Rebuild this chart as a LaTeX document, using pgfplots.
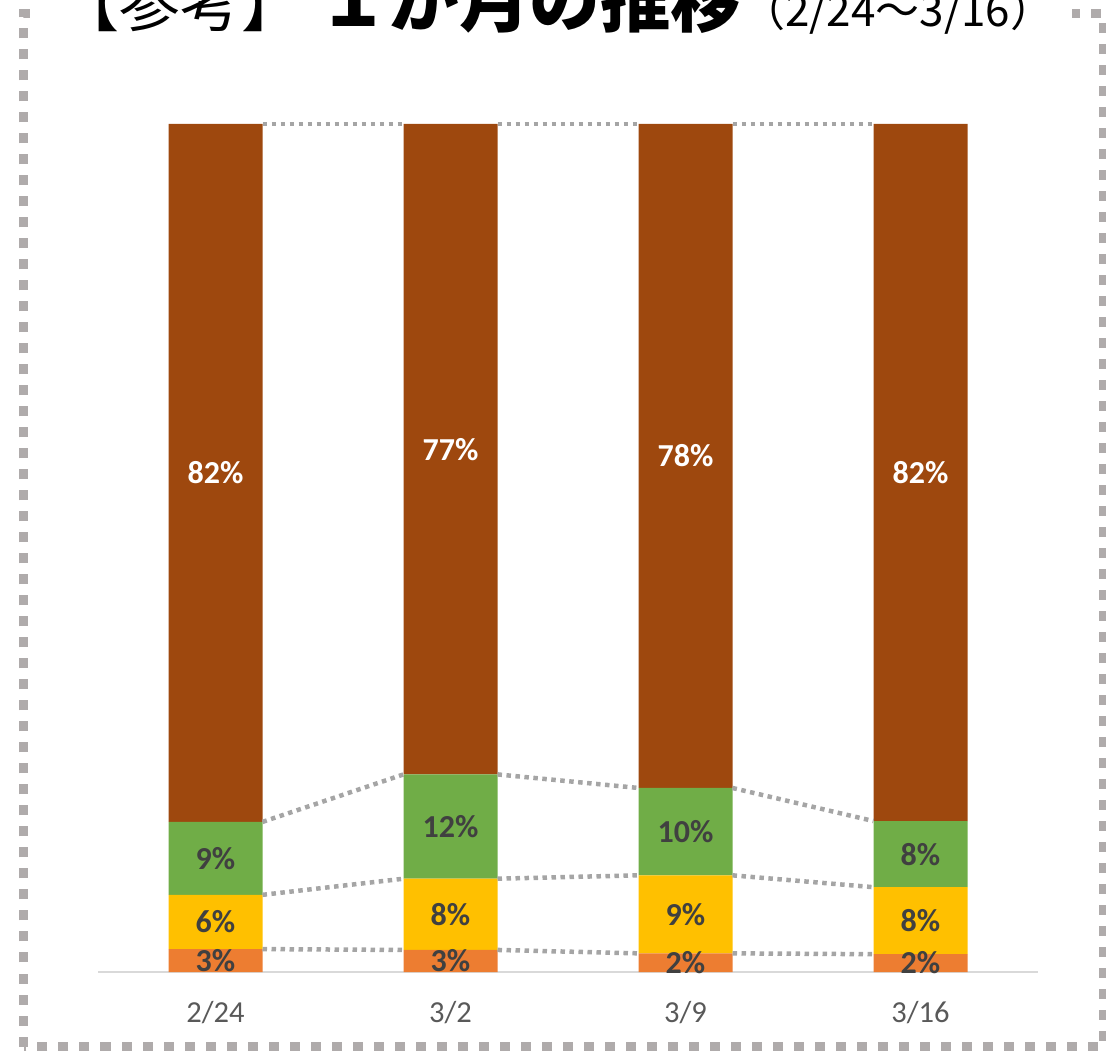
\documentclass[border=0pt]{standalone}
\usepackage{fontspec}
\setmainfont{Carlito}
\newfontfamily\jp{Noto Sans CJK JP}
\usepackage{pgfplots}
\pgfplotsset{compat=1.18}
\usepackage{pgfplotstable}

\definecolor{cOrange}{HTML}{ED7D31}
\definecolor{cYellow}{HTML}{FFC000}
\definecolor{cGreen}{HTML}{70AD47}
\definecolor{cBrown}{HTML}{9E480E}
\definecolor{cLab}{HTML}{404040}
\definecolor{cTick}{HTML}{595959}
\definecolor{cFrame}{HTML}{AFABAB}
\definecolor{cSer}{HTML}{A5A5A5}
\definecolor{cAxis}{HTML}{D9D9D9}

\pgfplotstableread{
x a b c d
0 2.7 6.4 8.6 82.3
1 2.6 8.4 12.3 76.7
2 2.2 9.2 10.3 78.3
3 2.1 7.9 7.8 82.2
}\shares

\pgfplotstableread{
x y1 y2 y3 y4
0.2 2.7 9.1 17.7 100
0.8 2.6 11.0 23.3 100
nan nan nan nan nan
1.2 2.6 11.0 23.3 100
1.8 2.2 11.4 21.7 100
nan nan nan nan nan
2.2 2.2 11.4 21.7 100
2.8 2.1 10.0 17.8 100
}\serieslines

\pgfplotsset{
  base/.style={
    at={(98pt,78pt)}, anchor=south west, scale only axis,
    width=940pt, height=848pt,
    xmin=-0.5, xmax=3.5, ymin=0, ymax=100,
  },
  lab/.style={
    only marks, mark=none,
    nodes near coords={\pgfmathprintnumber[fixed,precision=0,assume math mode=true]{\pgfplotspointmeta}\%},
    every node near coord/.append style={anchor=center, font=\bfseries\fontsize{32}{33}\selectfont, text=#1},
  },
}

\begin{document}
\begin{tikzpicture}
\useasboundingbox (0,0) rectangle (1106pt,1050pt);
\draw[cFrame, line width=9pt, dash pattern=on 10pt off 11pt] (23.5pt,3.5pt) rectangle (1103pt,1036pt);
\fill[white] (34pt,1000pt) rectangle (1072pt,1050pt);
\node[anchor=base west, inner sep=0pt] at (58pt,1023pt) {\jp\fontsize{61}{64}\selectfont 【参考】\hspace{16pt}{\bfseries\fontsize{70.5}{72}\selectfont １か月の推移}\fontsize{44}{46}\selectfont（2/24～3/16）};

\begin{axis}[base,
  ybar stacked, bar width=94pt,
  hide y axis,
  axis x line*=bottom,
  x axis line style={-, draw=cAxis, line width=2pt},
  xtick={0,1,2,3}, xticklabels={2/24,3/2,3/9,3/16},
  major tick length=0pt,
  xticklabel style={font=\fontsize{30.5}{31}\selectfont, text=cTick, anchor=base, yshift=-50pt},
]
\addplot[fill=cOrange, draw=none] table[x=x,y=a]{\shares};
\addplot[fill=cYellow, draw=none] table[x=x,y=b]{\shares};
\addplot[fill=cGreen, draw=none] table[x=x,y=c]{\shares};
\addplot[fill=cBrown, draw=none] table[x=x,y=d]{\shares};
\end{axis}

\begin{axis}[base, hide axis, clip=false, unbounded coords=jump]
\pgfplotsinvokeforeach{y1,y2,y3,y4}{
\addplot[cSer, line width=4.5pt, dash pattern=on 4.5pt off 4.5pt] table[x=x,y=#1]{\serieslines};
}
\addplot[lab=cLab, point meta=\thisrow{a}] table[x=x, y expr=\thisrow{a}/2]{\shares};
\addplot[lab=cLab, point meta=\thisrow{b}] table[x=x, y expr=\thisrow{a}+\thisrow{b}/2]{\shares};
\addplot[lab=cLab, point meta=\thisrow{c}] table[x=x, y expr=\thisrow{a}+\thisrow{b}+\thisrow{c}/2]{\shares};
\addplot[lab=white, point meta=\thisrow{d}] table[x=x, y expr=\thisrow{a}+\thisrow{b}+\thisrow{c}+\thisrow{d}/2]{\shares};
\end{axis}
\end{tikzpicture}
\end{document}
